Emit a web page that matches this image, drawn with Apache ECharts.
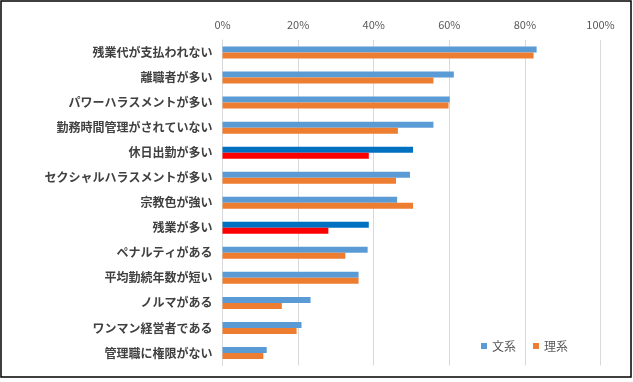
<!DOCTYPE html>
<html>
<head>
<meta charset="utf-8">
<script src="https://cdn.jsdelivr.net/npm/echarts@6/dist/echarts.min.js"></script>
<style>
html,body{margin:0;padding:0;background:#fff;}
#chart{width:633px;height:382px;}
</style>
</head>
<body>
<div id="chart"></div>
<script>
var categories = ['残業代が支払われない','離職者が多い','パワーハラスメントが多い','勤務時間管理がされていない','休日出勤が多い','セクシャルハラスメントが多い','宗教色が強い','残業が多い','ペナルティがある','平均勤続年数が短い','ノルマがある','ワンマン経営者である','管理職に権限がない'];
var bunkei = [83.1, 61.2, 60.1, 55.8, 50.4, 49.6, 46.2, 38.7, 38.4, 36.0, 23.3, 20.9, 11.7];
var rikei  = [82.3, 55.8, 59.8, 46.4, 38.7, 45.9, 50.4, 28.0, 32.5, 36.0, 15.7, 19.6, 10.8];
var highlighted = ['休日出勤が多い','残業が多い'];
var xTicks = [0, 20, 40, 60, 80, 100];

var C_BLUE = '#5B9BD5', C_ORANGE = '#ED7D31', C_DBLUE = '#0070C0', C_RED = '#FF0000';

function mk(vals, base, hi) {
  return vals.map(function (v, i) {
    var isHi = highlighted.indexOf(categories[i]) >= 0;
    return { value: v, itemStyle: { color: isHi ? hi : base } };
  });
}

var chart = echarts.init(document.getElementById('chart'), null, {renderer: 'canvas'});
chart.setOption({
  animation: false,
  backgroundColor: '#fff',
  textStyle: { fontFamily: '"Noto Sans CJK JP", "Noto Sans", sans-serif' },
  graphic: [{
    type: 'rect', silent: true, z: 100,
    shape: { x: 1, y: 1, width: 630, height: 376 },
    style: { fill: 'none', stroke: '#000', lineWidth: 1.5 }
  }],
  grid: { left: 222.5, right: 32.5, top: 40, bottom: 16.5, containLabel: false },
  legend: {
    left: 476, top: 335,
    icon: 'rect', itemWidth: 6, itemHeight: 6, itemGap: 17,
    textStyle: { fontSize: 12, color: '#595959', padding: [0,0,0,0] },
    data: ['文系', '理系']
  },
  xAxis: {
    type: 'value', position: 'top', min: xTicks[0], max: xTicks[xTicks.length-1], interval: 20,
    axisLine: { show: false }, axisTick: { show: false },
    axisLabel: { formatter: '{value}%', color: '#595959', fontSize: 11, margin: 10 },
    splitLine: { lineStyle: { color: '#d9d9d9', width: 1 } }
  },
  yAxis: {
    type: 'category', inverse: true, data: categories,
    axisLine: { lineStyle: { color: '#d9d9d9' } }, axisTick: { show: false },
    axisLabel: { color: '#404040', fontSize: 12, fontWeight: 'bold', margin: 10 }
  },
  series: [
    { name: '文系', type: 'bar', data: mk(bunkei, C_BLUE, C_DBLUE), itemStyle: { color: C_BLUE }, barWidth: 6, barGap: '0%' },
    { name: '理系', type: 'bar', data: mk(rikei, C_ORANGE, C_RED), itemStyle: { color: C_ORANGE }, barWidth: 6, barGap: '0%' }
  ]
});
</script>
</body>
</html>
